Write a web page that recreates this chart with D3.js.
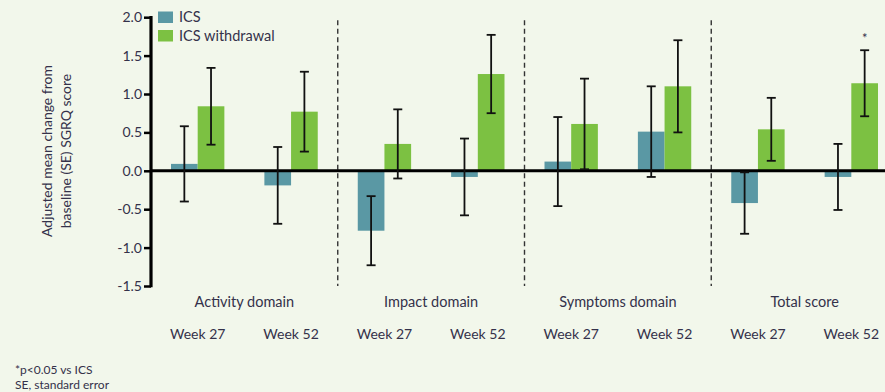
<!DOCTYPE html>
<html>
<head>
<meta charset="utf-8">
<script src="https://cdn.jsdelivr.net/npm/d3@7"></script>
<style>
  html, body { margin: 0; padding: 0; background: #f2f7eb; }
  svg { display: block; }
  text { font-family: Lato, "Open Sans", sans-serif; fill: #34314a; }
</style>
</head>
<body>
<svg id="chart" width="885" height="392"></svg>
<script>
// SGRQ change from baseline by domain and visit
const domains = ["Activity domain", "Impact domain", "Symptoms domain", "Total score"];
const weeks = ["Week 27", "Week 52"];
const seriesNames = ["ICS", "ICS withdrawal"];
const seriesColors = ["#5a98a4", "#7cc142"];

// Adjusted mean change, per domain: [week 27, week 52]
const icsMean = [[0.09, -0.19], [-0.78, -0.08], [0.12, 0.51], [-0.42, -0.08]];
const icsSE = [[0.49, 0.50], [0.45, 0.50], [0.58, 0.59], [0.40, 0.43]];
const wdMean = [[0.84, 0.77], [0.35, 1.26], [0.61, 1.10], [0.54, 1.14]];
const wdSE = [[0.50, 0.52], [0.45, 0.51], [0.59, 0.60], [0.41, 0.43]];
// Significance markers (p<0.05 vs ICS), per domain/week for the withdrawal arm
const wdSignificant = [[false, false], [false, false], [false, false], [false, true]];

const yTicks = [-1.5, -1.0, -0.5, 0.0, 0.5, 1.0, 1.5, 2.0];

const svg = d3.select("#chart");
const W = 885;

const y = d3.scaleLinear().domain([-1.5, 2.0]).range([286, 17.2]);
const x0 = d3.scaleBand().domain(domains).range([151, 898]).padding(0);
const x1 = d3.scaleBand().domain(weeks).range([0, x0.bandwidth()]).padding(0);
const x2 = d3.scaleBand().domain(seriesNames).range([0, x1.bandwidth()]).paddingInner(0).paddingOuter(0.75);

// flatten to rows
const rows = [];
domains.forEach((d, i) => {
  weeks.forEach((w, j) => {
    rows.push({ domain: d, week: w, series: seriesNames[0], mean: icsMean[i][j], se: icsSE[i][j], color: seriesColors[0], sig: false });
    rows.push({ domain: d, week: w, series: seriesNames[1], mean: wdMean[i][j], se: wdSE[i][j], color: seriesColors[1], sig: wdSignificant[i][j] });
  });
});
const xPos = r => x0(r.domain) + x1(r.week) + x2(r.series);

// dashed separators between domains
svg.append("g").selectAll("line")
  .data(domains.slice(1))
  .join("line")
  .attr("x1", d => x0(d)).attr("x2", d => x0(d))
  .attr("y1", y(1.96)).attr("y2", y(-1.5))
  .attr("stroke", "#333").attr("stroke-width", 1.4)
  .attr("stroke-dasharray", "5,3.5");

// bars
svg.append("g").selectAll("rect")
  .data(rows)
  .join("rect")
  .attr("x", xPos)
  .attr("width", x2.bandwidth())
  .attr("y", r => y(Math.max(0, r.mean)))
  .attr("height", r => Math.abs(y(r.mean) - y(0)))
  .attr("fill", r => r.color);

// zero line
svg.append("line")
  .attr("x1", 151).attr("x2", W)
  .attr("y1", y(0)).attr("y2", y(0))
  .attr("stroke", "#000").attr("stroke-width", 3);

// error bars
const eb = svg.append("g").attr("stroke", "#111").attr("stroke-width", 1.8);
rows.forEach(r => {
  const cx = xPos(r) + x2.bandwidth() / 2;
  const hi = y(r.mean + r.se), lo = y(r.mean - r.se);
  eb.append("line").attr("x1", cx).attr("x2", cx).attr("y1", hi).attr("y2", lo);
  eb.append("line").attr("x1", cx - 4.5).attr("x2", cx + 4.5).attr("y1", hi).attr("y2", hi);
  eb.append("line").attr("x1", cx - 4.5).attr("x2", cx + 4.5).attr("y1", lo).attr("y2", lo);
  if (r.sig) {
    svg.append("text").attr("x", cx).attr("y", hi - 7)
      .attr("text-anchor", "middle").attr("font-size", 13).text("*");
  }
});

// y axis
const yAxis = d3.axisLeft(y).tickValues(yTicks)
  .tickFormat(d => d3.format(".1f")(d).replace("\u2212", "-"))
  .tickSize(7).tickPadding(2);
const ga = svg.append("g").attr("transform", "translate(151,0)").call(yAxis);
ga.select(".domain").remove();
ga.selectAll(".tick line").attr("stroke", "#000").attr("stroke-width", 2.5);
ga.selectAll(".tick text").attr("font-size", 14).attr("font-family", "Lato, sans-serif").attr("fill", "#34314a");
svg.append("line").attr("x1", 151).attr("x2", 151).attr("y1", y(2.0) - 1.2).attr("y2", y(-1.5) + 1.2)
  .attr("stroke", "#000").attr("stroke-width", 3.2);

// y title
const yt = svg.append("text").attr("transform", "translate(0,151) rotate(-90)")
  .attr("text-anchor", "middle").attr("font-size", 14);
yt.append("tspan").attr("x", 0).attr("y", 52).text("Adjusted mean change from");
yt.append("tspan").attr("x", 0).attr("y", 71).text("baseline (SE) SGRQ score");

// domain labels
svg.append("g").selectAll("text")
  .data(domains)
  .join("text")
  .attr("x", d => x0(d) + x0.bandwidth() / 2)
  .attr("y", 307)
  .attr("text-anchor", "middle").attr("font-size", 14.5)
  .text(d => d);

// week labels
const wk = [];
domains.forEach(d => weeks.forEach(w => wk.push({ d, w })));
svg.append("g").selectAll("text")
  .data(wk)
  .join("text")
  .attr("x", k => x0(k.d) + x1(k.w) + x1.bandwidth() / 2)
  .attr("y", 339)
  .attr("text-anchor", "middle").attr("font-size", 14)
  .text(k => k.w);

// legend
const lg = svg.append("g");
seriesNames.forEach((s, i) => {
  lg.append("rect").attr("x", 158).attr("y", 11.5 + i * 18.5).attr("width", 15).attr("height", 11.5).attr("fill", seriesColors[i]);
  lg.append("text").attr("x", 179).attr("y", 22 + i * 18.5).attr("font-size", 14.5).text(s);
});

// footnotes
svg.append("text").attr("x", 15).attr("y", 374).attr("font-size", 12).text("*p<0.05 vs ICS");
svg.append("text").attr("x", 15).attr("y", 389).attr("font-size", 12).text("SE, standard error");
</script>
</body>
</html>
